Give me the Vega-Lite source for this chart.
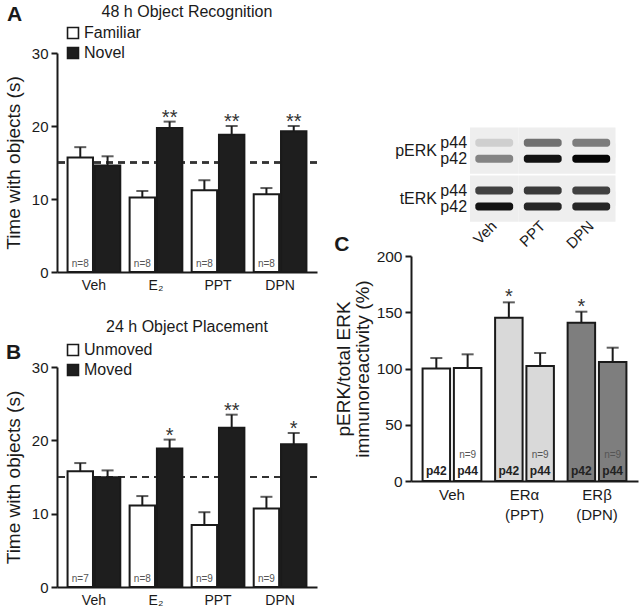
{
  "$schema": "https://vega.github.io/schema/vega-lite/v6.json",
  "padding": {"left": 4, "top": 4, "right": 2, "bottom": 2},
  "background": "white",
  "config": {
    "font": "Liberation Sans",
    "view": {"stroke": null},
    "axis": {"domainColor": "#1a1a1a", "domainWidth": 2, "tickColor": "#1a1a1a", "tickWidth": 2, "tickSize": 6, "labelColor": "#1a1a1a", "labelFontSize": 15, "titleColor": "#1a1a1a", "titleFontSize": 19, "titleFontWeight": "normal", "grid": false, "labelPadding": 3, "labelOverlap": false},
    "title": {"fontWeight": "normal", "fontSize": 16, "color": "#1a1a1a"},
    "legend": {"padding": 0, "labelFontSize": 16, "labelColor": "#1a1a1a", "symbolType": "square", "symbolSize": 120, "symbolStrokeColor": "#1a1a1a", "symbolStrokeWidth": 1.6, "rowPadding": 2, "labelOffset": 3, "titleColor": "#1a1a1a", "titleFontSize": 21, "titleFontWeight": "bold", "titleOrient": "left", "titleAnchor": "start"}
  },
  "datasets": {
    "objRec": [
      {"treatment": "Veh", "object": "Familiar", "mean": 15.67, "hi": 17.1, "n": "n=8"},
      {"treatment": "Veh", "object": "Novel", "mean": 14.58, "hi": 15.85},
      {"treatment": "E₂", "object": "Familiar", "mean": 10.2, "hi": 11.1, "n": "n=8"},
      {"treatment": "E₂", "object": "Novel", "mean": 19.73, "hi": 20.6, "sig": "**"},
      {"treatment": "PPT", "object": "Familiar", "mean": 11.2, "hi": 12.57, "n": "n=8"},
      {"treatment": "PPT", "object": "Novel", "mean": 18.8, "hi": 20.0, "sig": "**"},
      {"treatment": "DPN", "object": "Familiar", "mean": 10.66, "hi": 11.5, "n": "n=8"},
      {"treatment": "DPN", "object": "Novel", "mean": 19.27, "hi": 20.0, "sig": "**"}
    ],
    "objPlace": [
      {"treatment": "Veh", "object": "Unmoved", "mean": 15.8, "hi": 16.9, "n": "n=7"},
      {"treatment": "Veh", "object": "Moved", "mean": 14.95, "hi": 15.9},
      {"treatment": "E₂", "object": "Unmoved", "mean": 11.1, "hi": 12.4, "n": "n=8"},
      {"treatment": "E₂", "object": "Moved", "mean": 18.9, "hi": 20.1, "sig": "*"},
      {"treatment": "PPT", "object": "Unmoved", "mean": 8.45, "hi": 10.2, "n": "n=9"},
      {"treatment": "PPT", "object": "Moved", "mean": 21.7, "hi": 23.5, "sig": "**"},
      {"treatment": "DPN", "object": "Unmoved", "mean": 10.7, "hi": 12.3, "n": "n=9"},
      {"treatment": "DPN", "object": "Moved", "mean": 19.45, "hi": 21.0, "sig": "*"}
    ],
    "erk": [
      {"treatment": "Veh", "sub": "p42", "mean": 100.1, "hi": 109.3},
      {"treatment": "Veh", "sub": "p44", "mean": 100.4, "hi": 112.6, "n": "n=9"},
      {"treatment": "ERα (PPT)", "sub": "p42", "mean": 145.2, "hi": 158.8, "sig": "*"},
      {"treatment": "ERα (PPT)", "sub": "p44", "mean": 102.2, "hi": 113.8, "n": "n=9"},
      {"treatment": "ERβ (DPN)", "sub": "p42", "mean": 140.7, "hi": 150.5, "sig": "*"},
      {"treatment": "ERβ (DPN)", "sub": "p44", "mean": 105.8, "hi": 118.5, "n": "n=9"}
    ],
    "blot": [
      {"lane": "Veh", "row": "pERK p44", "intensity": 0.12},
      {"lane": "PPT", "row": "pERK p44", "intensity": 0.5},
      {"lane": "DPN", "row": "pERK p44", "intensity": 0.45},
      {"lane": "Veh", "row": "pERK p42", "intensity": 0.42},
      {"lane": "PPT", "row": "pERK p42", "intensity": 0.95},
      {"lane": "DPN", "row": "pERK p42", "intensity": 1.0},
      {"lane": "Veh", "row": "tERK p44", "intensity": 0.72},
      {"lane": "PPT", "row": "tERK p44", "intensity": 0.75},
      {"lane": "DPN", "row": "tERK p44", "intensity": 0.72},
      {"lane": "Veh", "row": "tERK p42", "intensity": 0.95},
      {"lane": "PPT", "row": "tERK p42", "intensity": 0.85},
      {"lane": "DPN", "row": "tERK p42", "intensity": 0.85}
    ],
    "blotLabels": [
      {"lane": "lab", "row": "pERK p44", "label": "p44", "kind": "band"},
      {"lane": "lab", "row": "pERK p42", "label": "p42", "kind": "band"},
      {"lane": "lab", "row": "tERK p44", "label": "p44", "kind": "band"},
      {"lane": "lab", "row": "tERK p42", "label": "p42", "kind": "band"},
      {"lane": "lab", "row": "pERK p42", "label": "pERK", "kind": "protein"},
      {"lane": "lab", "row": "tERK p42", "label": "tERK", "kind": "protein"}
    ]
  },
  "spacing": 16,
  "resolve": {"scale": {"fill": "independent", "y": "independent"}, "legend": {"fill": "independent"}, "axis": {"y": "independent"}},
  "hconcat": [
    {
      "spacing": 27,
      "resolve": {"scale": {"fill": "independent", "y": "independent"}, "legend": {"fill": "independent"}, "axis": {"y": "independent"}},
      "vconcat": [
        {
          "width": 260, "height": 219,
          "data": {"name": "objRec"},
          "title": {"text": "48 h Object Recognition", "offset": 5},
          "layer": [
            {"mark": {"type": "rule", "strokeDash": [7, 5], "strokeWidth": 1.5, "color": "#333"},
             "encoding": {"y": {"datum": 15, "type": "quantitative", "scale": {"domain": [0, 30], "nice": false}, "axis": {"title": "Time with objects (s)", "values": [0, 5, 10, 15, 20, 25, 30], "tickCount": 6, "labelOverlap": false, "titlePadding": 8}}}},
            {"transform": [{"filter": "datum.object == 'Familiar'"}],
             "mark": {"type": "bar", "stroke": "#1a1a1a", "strokeWidth": 2, "width": {"band": 0.482}, "xOffset": -13.65},
             "encoding": {
               "x": {"field": "treatment", "type": "nominal", "scale": {"type": "band", "domain": ["Veh", "E₂", "PPT", "DPN"], "paddingInner": 0.15, "paddingOuter": 0.17}, "axis": {"title": null, "labelAngle": 0, "ticks": false, "labelFontSize": 14, "labelPadding": 6}},
               "y": {"field": "mean", "type": "quantitative", "scale": {"domain": [0, 30], "nice": false}, "axis": {"title": "Time with objects (s)", "values": [0, 5, 10, 15, 20, 25, 30], "tickCount": 6, "labelOverlap": false, "titlePadding": 8}},
               "fill": {"field": "object", "type": "nominal", "scale": {"domain": ["Familiar", "Novel"], "range": ["#ffffff", "#1e1e1e"]}, "legend": {"title": "A", "orient": "none", "legendX": -50, "legendY": -28, "titleBaseline": "bottom", "titlePadding": 42, "direction": "vertical"}}
             }},
            {"transform": [{"filter": "datum.object == 'Novel'"}],
             "mark": {"type": "bar", "stroke": "#1a1a1a", "strokeWidth": 2, "width": {"band": 0.482}, "xOffset": 13.65},
             "encoding": {
               "x": {"field": "treatment", "type": "nominal"},
               "y": {"field": "mean", "type": "quantitative"},
               "fill": {"field": "object", "type": "nominal"}
             }},
            {"transform": [{"filter": "datum.object == 'Familiar'"}],
             "mark": {"type": "rule", "strokeWidth": 2, "color": "#1a1a1a", "xOffset": -13.65},
             "encoding": {"x": {"field": "treatment", "type": "nominal"}, "y": {"field": "mean", "type": "quantitative"}, "y2": {"field": "hi"}}},
            {"transform": [{"filter": "datum.object == 'Novel'"}],
             "mark": {"type": "rule", "strokeWidth": 2, "color": "#1a1a1a", "xOffset": 13.65},
             "encoding": {"x": {"field": "treatment", "type": "nominal"}, "y": {"field": "mean", "type": "quantitative"}, "y2": {"field": "hi"}}},
            {"transform": [{"filter": "datum.object == 'Familiar'"}],
             "mark": {"type": "tick", "orient": "horizontal", "size": 12, "thickness": 2, "color": "#1a1a1a", "xOffset": -13.65},
             "encoding": {"x": {"field": "treatment", "type": "nominal"}, "y": {"field": "hi", "type": "quantitative"}}},
            {"transform": [{"filter": "datum.object == 'Novel'"}],
             "mark": {"type": "tick", "orient": "horizontal", "size": 12, "thickness": 2, "color": "#1a1a1a", "xOffset": 13.65},
             "encoding": {"x": {"field": "treatment", "type": "nominal"}, "y": {"field": "hi", "type": "quantitative"}}},
            {"transform": [{"filter": "datum.sig"}],
             "mark": {"type": "text", "fontSize": 20, "baseline": "middle", "dy": -4, "color": "#333", "xOffset": 13.65},
             "encoding": {"x": {"field": "treatment", "type": "nominal"}, "y": {"field": "hi", "type": "quantitative"}, "text": {"field": "sig"}}},
            {"transform": [{"filter": "datum.n"}],
             "mark": {"type": "text", "fontSize": 10, "baseline": "bottom", "dy": -3, "color": "#555", "xOffset": -13.65},
             "encoding": {"x": {"field": "treatment", "type": "nominal"}, "y": {"datum": 0, "type": "quantitative"}, "text": {"field": "n"}}}
          ]
        },
        {
          "width": 260, "height": 220,
          "data": {"name": "objPlace"},
          "title": {"text": "24 h Object Placement", "offset": 7},
          "layer": [
            {"mark": {"type": "rule", "strokeDash": [7, 5], "strokeWidth": 1.5, "color": "#333"},
             "encoding": {"y": {"datum": 15, "type": "quantitative", "scale": {"domain": [0, 30], "nice": false}, "axis": {"title": "Time with objects (s)", "values": [0, 5, 10, 15, 20, 25, 30], "tickCount": 6, "labelOverlap": false, "titlePadding": 8}}}},
            {"transform": [{"filter": "datum.object == 'Unmoved'"}],
             "mark": {"type": "bar", "stroke": "#1a1a1a", "strokeWidth": 2, "width": {"band": 0.482}, "xOffset": -13.65},
             "encoding": {
               "x": {"field": "treatment", "type": "nominal", "scale": {"type": "band", "domain": ["Veh", "E₂", "PPT", "DPN"], "paddingInner": 0.15, "paddingOuter": 0.17}, "axis": {"title": null, "labelAngle": 0, "ticks": false, "labelFontSize": 14, "labelPadding": 6}},
               "y": {"field": "mean", "type": "quantitative", "scale": {"domain": [0, 30], "nice": false}, "axis": {"title": "Time with objects (s)", "values": [0, 5, 10, 15, 20, 25, 30], "tickCount": 6, "labelOverlap": false, "titlePadding": 8}},
               "fill": {"field": "object", "type": "nominal", "scale": {"domain": ["Unmoved", "Moved"], "range": ["#ffffff", "#1e1e1e"]}, "legend": {"title": "B", "orient": "none", "legendX": -51, "legendY": -25, "titleBaseline": "top", "titlePadding": 43, "direction": "vertical"}}
             }},
            {"transform": [{"filter": "datum.object == 'Moved'"}],
             "mark": {"type": "bar", "stroke": "#1a1a1a", "strokeWidth": 2, "width": {"band": 0.482}, "xOffset": 13.65},
             "encoding": {
               "x": {"field": "treatment", "type": "nominal"},
               "y": {"field": "mean", "type": "quantitative"},
               "fill": {"field": "object", "type": "nominal"}
             }},
            {"transform": [{"filter": "datum.object == 'Unmoved'"}],
             "mark": {"type": "rule", "strokeWidth": 2, "color": "#1a1a1a", "xOffset": -13.65},
             "encoding": {"x": {"field": "treatment", "type": "nominal"}, "y": {"field": "mean", "type": "quantitative"}, "y2": {"field": "hi"}}},
            {"transform": [{"filter": "datum.object == 'Moved'"}],
             "mark": {"type": "rule", "strokeWidth": 2, "color": "#1a1a1a", "xOffset": 13.65},
             "encoding": {"x": {"field": "treatment", "type": "nominal"}, "y": {"field": "mean", "type": "quantitative"}, "y2": {"field": "hi"}}},
            {"transform": [{"filter": "datum.object == 'Unmoved'"}],
             "mark": {"type": "tick", "orient": "horizontal", "size": 12, "thickness": 2, "color": "#1a1a1a", "xOffset": -13.65},
             "encoding": {"x": {"field": "treatment", "type": "nominal"}, "y": {"field": "hi", "type": "quantitative"}}},
            {"transform": [{"filter": "datum.object == 'Moved'"}],
             "mark": {"type": "tick", "orient": "horizontal", "size": 12, "thickness": 2, "color": "#1a1a1a", "xOffset": 13.65},
             "encoding": {"x": {"field": "treatment", "type": "nominal"}, "y": {"field": "hi", "type": "quantitative"}}},
            {"transform": [{"filter": "datum.sig"}],
             "mark": {"type": "text", "fontSize": 20, "baseline": "middle", "dy": -4, "color": "#333", "xOffset": 13.65},
             "encoding": {"x": {"field": "treatment", "type": "nominal"}, "y": {"field": "hi", "type": "quantitative"}, "text": {"field": "sig"}}},
            {"transform": [{"filter": "datum.n"}],
             "mark": {"type": "text", "fontSize": 10, "baseline": "bottom", "dy": -3, "color": "#555", "xOffset": -13.65},
             "encoding": {"x": {"field": "treatment", "type": "nominal"}, "y": {"datum": 0, "type": "quantitative"}, "text": {"field": "n"}}}
          ]
        }
      ]
    },
    {
      "spacing": -18,
      "resolve": {"scale": {"fill": "independent", "y": "independent"}, "legend": {"fill": "independent"}, "axis": {"y": "independent"}},
      "vconcat": [
        {
          "width": 204.5, "height": 166,
          "layer": [
            {"data": {"name": "blot"},
             "mark": {"type": "rect", "fill": "#eeeeee", "height": {"band": 1.9}},
             "encoding": {
               "x": {"field": "lane", "type": "nominal", "scale": {"type": "band", "domain": ["lab", "Veh", "PPT", "DPN"], "paddingInner": 0, "paddingOuter": 0.108, "align": 1}, "axis": {"title": null, "labelAngle": -45, "labelExpr": "datum.value == 'lab' ? '' : datum.value", "domain": false, "ticks": false, "labelFontSize": 15, "labelAlign": "right", "labelBaseline": "middle", "labelPadding": 4}},
               "y": {"field": "row", "type": "nominal", "scale": {"type": "band", "domain": ["s1", "s2", "s3", "s4", "s5", "pERK p44", "pERK p42", "gap", "tERK p44", "tERK p42"], "paddingInner": 0, "paddingOuter": 0.2, "align": 0.3}, "axis": null}
             }},
            {"data": {"name": "blot"},
             "mark": {"type": "rect", "cornerRadius": 3, "width": {"band": 0.78}, "height": {"band": 0.5}},
             "encoding": {
               "x": {"field": "lane", "type": "nominal"},
               "y": {"field": "row", "type": "nominal"},
               "fill": {"field": "intensity", "type": "quantitative", "scale": {"domain": [0, 1], "range": ["#eeeeee", "#050505"]}, "legend": null}
             }},
            {"data": {"name": "blotLabels"},
             "transform": [{"filter": "datum.kind == 'band'"}],
             "mark": {"type": "text", "align": "right", "baseline": "middle", "fontSize": 16, "color": "#1a1a1a"},
             "encoding": {
               "x": {"field": "lane", "type": "nominal", "bandPosition": 0.94},
               "y": {"field": "row", "type": "nominal"},
               "text": {"field": "label"}
             }},
            {"data": {"name": "blotLabels"},
             "transform": [{"filter": "datum.kind == 'protein'"}],
             "mark": {"type": "text", "align": "right", "baseline": "middle", "fontSize": 16, "color": "#1a1a1a"},
             "encoding": {
               "x": {"field": "lane", "type": "nominal", "bandPosition": 0.32},
               "y": {"field": "row", "type": "nominal", "bandPosition": 0},
               "text": {"field": "label"}
             }}
          ]
        },
        {
          "width": 227, "height": 225,
          "data": {"name": "erk"},
          "title": {"text": "C", "anchor": "start", "fontSize": 21, "fontWeight": "bold", "offset": -6, "frame": "bounds"},
          "layer": [
            {"transform": [{"filter": "datum.sub == 'p42'"}],
             "mark": {"type": "bar", "stroke": "#1a1a1a", "strokeWidth": 2, "width": {"band": 0.468}, "xOffset": -15.65},
             "encoding": {
               "x": {"field": "treatment", "type": "nominal", "scale": {"type": "band", "domain": ["Veh", "ERα (PPT)", "ERβ (DPN)"], "paddingInner": 0.19, "paddingOuter": 0.16}, "axis": {"title": null, "labelAngle": 0, "ticks": false, "labelFontSize": 15, "labelPadding": 6, "labelExpr": "split(datum.value, ' ')", "labelLineHeight": 20}},
               "y": {"field": "mean", "type": "quantitative", "scale": {"domain": [0, 200]}, "axis": {"title": ["pERK/total ERK", "immunoreactivity (%)"], "values": [0, 50, 100, 150, 200], "labelFontSize": 15.5, "titlePadding": 4, "titleLineHeight": 19}},
               "fill": {"field": "treatment", "type": "nominal", "scale": {"domain": ["Veh", "ERα (PPT)", "ERβ (DPN)"], "range": ["#ffffff", "#d9d9d9", "#7e7e7e"]}, "legend": null}
             }},
            {"transform": [{"filter": "datum.sub == 'p44'"}],
             "mark": {"type": "bar", "stroke": "#1a1a1a", "strokeWidth": 2, "width": {"band": 0.468}, "xOffset": 15.65},
             "encoding": {
               "x": {"field": "treatment", "type": "nominal"},
               "y": {"field": "mean", "type": "quantitative"},
               "fill": {"field": "treatment", "type": "nominal", "legend": null}
             }},
            {"transform": [{"filter": "datum.sub == 'p42'"}],
             "mark": {"type": "rule", "strokeWidth": 2, "color": "#1a1a1a", "xOffset": -15.65},
             "encoding": {"x": {"field": "treatment", "type": "nominal"}, "y": {"field": "mean", "type": "quantitative"}, "y2": {"field": "hi"}}},
            {"transform": [{"filter": "datum.sub == 'p44'"}],
             "mark": {"type": "rule", "strokeWidth": 2, "color": "#1a1a1a", "xOffset": 15.65},
             "encoding": {"x": {"field": "treatment", "type": "nominal"}, "y": {"field": "mean", "type": "quantitative"}, "y2": {"field": "hi"}}},
            {"transform": [{"filter": "datum.sub == 'p42'"}],
             "mark": {"type": "tick", "orient": "horizontal", "size": 12, "thickness": 2, "color": "#1a1a1a", "xOffset": -15.65},
             "encoding": {"x": {"field": "treatment", "type": "nominal"}, "y": {"field": "hi", "type": "quantitative"}}},
            {"transform": [{"filter": "datum.sub == 'p44'"}],
             "mark": {"type": "tick", "orient": "horizontal", "size": 12, "thickness": 2, "color": "#1a1a1a", "xOffset": 15.65},
             "encoding": {"x": {"field": "treatment", "type": "nominal"}, "y": {"field": "hi", "type": "quantitative"}}},
            {"transform": [{"filter": "datum.sig"}],
             "mark": {"type": "text", "fontSize": 20, "baseline": "middle", "dy": -5, "color": "#333", "xOffset": -15.65},
             "encoding": {"x": {"field": "treatment", "type": "nominal"}, "y": {"field": "hi", "type": "quantitative"}, "text": {"field": "sig"}}},
            {"transform": [{"filter": "datum.sub == 'p42'"}],
             "mark": {"type": "text", "fontSize": 12, "fontWeight": "bold", "baseline": "bottom", "dy": -3, "color": "#222", "xOffset": -15.65},
             "encoding": {"x": {"field": "treatment", "type": "nominal"}, "y": {"datum": 0, "type": "quantitative"}, "text": {"field": "sub"}}},
            {"transform": [{"filter": "datum.sub == 'p44'"}],
             "mark": {"type": "text", "fontSize": 12, "fontWeight": "bold", "baseline": "bottom", "dy": -3, "color": "#222", "xOffset": 15.65},
             "encoding": {"x": {"field": "treatment", "type": "nominal"}, "y": {"datum": 0, "type": "quantitative"}, "text": {"field": "sub"}}},
            {"transform": [{"filter": "datum.n"}],
             "mark": {"type": "text", "fontSize": 10, "baseline": "bottom", "dy": -21, "color": "#555", "xOffset": 15.65},
             "encoding": {"x": {"field": "treatment", "type": "nominal"}, "y": {"datum": 0, "type": "quantitative"}, "text": {"field": "n"}}}
          ]
        }
      ]
    }
  ]
}
